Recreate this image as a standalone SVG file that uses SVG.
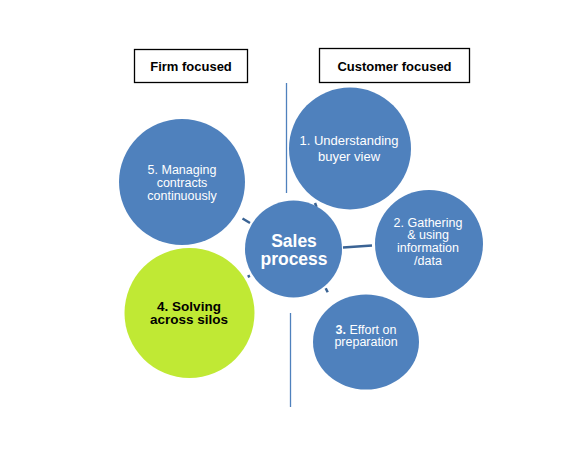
<svg xmlns="http://www.w3.org/2000/svg" width="573" height="457" viewBox="0 0 573 457">
<style>
.c{fill:#4F81BD}
.g{fill:#C0E934}
.t{font-family:"Liberation Sans",Arial,sans-serif;font-size:12.5px;fill:#fff;text-anchor:middle}
.m{font-size:13px}
.l{font-size:13.5px}
.xl{font-size:17.5px}
.b{font-weight:bold}
.k{fill:#000}
.box{fill:#fff;stroke:#000;stroke-width:1.3}
.conn{stroke:#3A6394;stroke-width:2.5;fill:none}
.vl{stroke:#4F81BD;stroke-width:1.3}
</style>
<rect width="573" height="457" fill="#fff"/>
<g id="header-firm">
<rect class="box" x="134.5" y="49.5" width="113" height="33"/>
<text class="t b k m" x="191" y="71">Firm focused</text>
</g>
<g id="header-customer">
<rect class="box" x="319.5" y="48.5" width="150" height="34"/>
<text class="t b k m" x="394.5" y="71">Customer focused</text>
</g>
<g id="dividers">
<line class="vl" x1="286.5" y1="83" x2="286.5" y2="193"/>
<line class="vl" x1="290.5" y1="313" x2="290.5" y2="407"/>
</g>
<g id="connectors">
<line class="conn" x1="242.5" y1="218.5" x2="250" y2="223"/>
<line class="conn" x1="315" y1="203" x2="316.5" y2="207" stroke="#6F95C4"/>
<line class="conn" x1="343" y1="247.5" x2="372" y2="245.5"/>
<line class="conn" x1="248.3" y1="275" x2="249.3" y2="277.5"/>
<line class="conn" x1="325.7" y1="288.3" x2="327.7" y2="292.3"/>
</g>
<g id="n1">
<circle class="c" cx="350" cy="148.5" r="61"/>
<text class="t m" x="349" y="144.5">1. Understanding</text>
<text class="t m" x="349" y="160.5">buyer view</text>
</g>
<g id="n2">
<circle class="c" cx="429" cy="244" r="54"/>
<text class="t" x="428" y="226.5">2. Gathering</text>
<text class="t" x="428" y="239.3">&amp; using</text>
<text class="t" x="428" y="252.3">information</text>
<text class="t" x="428" y="264.5">/data</text>
</g>
<g id="n3">
<ellipse class="c" cx="366" cy="342" rx="53" ry="47.5"/>
<text class="t" x="366" y="334"><tspan font-weight="bold">3.</tspan> Effort on</text>
<text class="t" x="366" y="346">preparation</text>
</g>
<g id="n4">
<circle class="g" cx="189.5" cy="313" r="65"/>
<text class="t b k l" x="189" y="311">4. Solving</text>
<text class="t b k l" x="189" y="323.5">across silos</text>
</g>
<g id="n5">
<circle class="c" cx="182" cy="182" r="63"/>
<text class="t" x="182" y="173.5">5. Managing</text>
<text class="t" x="182" y="186.5">contracts</text>
<text class="t" x="182" y="199.5">continuously</text>
</g>
<g id="center">
<circle class="c" cx="293.5" cy="249" r="48.5"/>
<text class="t b xl" x="294" y="246.5">Sales</text>
<text class="t b xl" x="294" y="264.5">process</text>
</g>
</svg>
